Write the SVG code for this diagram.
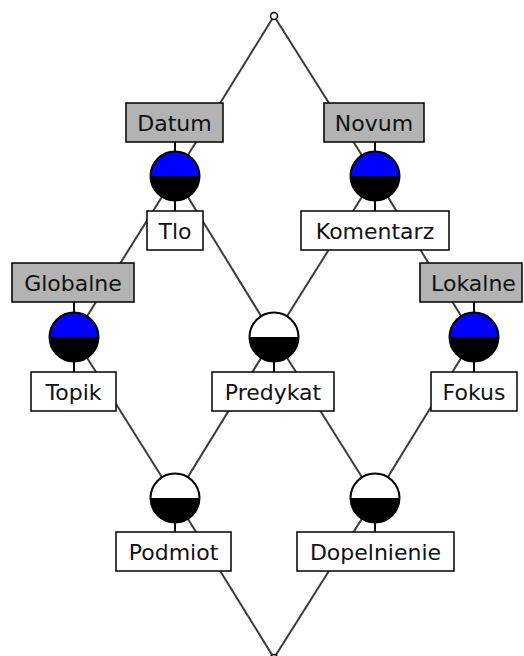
<svg xmlns="http://www.w3.org/2000/svg" width="524" height="656" viewBox="0 0 524 656">
<style>
.edge{stroke:#3c3c3c;stroke-width:2;fill:none}
.tick{stroke:#000;stroke-width:2}
.ring{fill:none;stroke:#000;stroke-width:2}
.attr{fill:#b3b3b3;stroke:#000;stroke-width:1.5}
.obj{fill:#fff;stroke:#000;stroke-width:1.5}
.lbl{font-family:"DejaVu Sans",sans-serif;font-size:22px;fill:#111;text-anchor:middle}
.blue{fill:#0000ff}
.white{fill:#fff}
.black{fill:#000}
</style>
<rect width="524" height="656" fill="#fff"/>
<g id="connectors">
<line class="edge" x1="274" y1="16" x2="175" y2="176"/>
<line class="edge" x1="274" y1="16" x2="375" y2="176"/>
<line class="edge" x1="175" y1="176" x2="74" y2="337"/>
<line class="edge" x1="175" y1="176" x2="274" y2="337"/>
<line class="edge" x1="375" y1="176" x2="274" y2="337"/>
<line class="edge" x1="375" y1="176" x2="474" y2="337"/>
<line class="edge" x1="74" y1="337" x2="175" y2="498"/>
<line class="edge" x1="274" y1="337" x2="175" y2="498"/>
<line class="edge" x1="274" y1="337" x2="375" y2="498"/>
<line class="edge" x1="474" y1="337" x2="375" y2="498"/>
<line class="edge" x1="175" y1="498" x2="274" y2="658"/>
<line class="edge" x1="375" y1="498" x2="274" y2="658"/>
</g>
<g id="top">
<circle cx="274" cy="16" r="3.5" fill="#fff" stroke="#000" stroke-width="1.5"/>
</g>
<g id="bottom">
<circle cx="274" cy="658" r="3.5" fill="#fff" stroke="#000" stroke-width="1.5"/>
</g>
<g id="n-datum-tlo">
<line class="tick" x1="175" y1="142" x2="175" y2="152"/>
<line class="tick" x1="175" y1="200" x2="175" y2="211"/>
<path class="blue" d="M150.5,176 A24.5,24.5 0 0 1 199.5,176 Z"/>
<path class="black" d="M150.5,176 A24.5,24.5 0 0 0 199.5,176 Z"/>
<circle class="ring" cx="175" cy="176" r="24.5"/>
<rect class="attr" x="126" y="103" width="97" height="39"/>
<text class="lbl" x="174.5" y="131">Datum</text>
<rect class="obj" x="147" y="211" width="56" height="39"/>
<text class="lbl" x="175" y="239">Tlo</text>
</g>
<g id="n-novum-komentarz">
<line class="tick" x1="375" y1="142" x2="375" y2="152"/>
<line class="tick" x1="375" y1="200" x2="375" y2="211"/>
<path class="blue" d="M350.5,176 A24.5,24.5 0 0 1 399.5,176 Z"/>
<path class="black" d="M350.5,176 A24.5,24.5 0 0 0 399.5,176 Z"/>
<circle class="ring" cx="375" cy="176" r="24.5"/>
<rect class="attr" x="324" y="103" width="100" height="39"/>
<text class="lbl" x="374" y="131">Novum</text>
<rect class="obj" x="301" y="211" width="148" height="39"/>
<text class="lbl" x="375" y="239">Komentarz</text>
</g>
<g id="n-globalne-topik">
<line class="tick" x1="74" y1="302" x2="74" y2="313"/>
<line class="tick" x1="74" y1="361" x2="74" y2="372"/>
<path class="blue" d="M49.5,337 A24.5,24.5 0 0 1 98.5,337 Z"/>
<path class="black" d="M49.5,337 A24.5,24.5 0 0 0 98.5,337 Z"/>
<circle class="ring" cx="74" cy="337" r="24.5"/>
<rect class="attr" x="12" y="263" width="122" height="39"/>
<text class="lbl" x="73" y="291">Globalne</text>
<rect class="obj" x="31" y="372" width="85" height="39"/>
<text class="lbl" x="73.5" y="400">Topik</text>
</g>
<g id="n-predykat">
<line class="tick" x1="274" y1="361" x2="274" y2="372"/>
<path class="white" d="M249.5,337 A24.5,24.5 0 0 1 298.5,337 Z"/>
<path class="black" d="M249.5,337 A24.5,24.5 0 0 0 298.5,337 Z"/>
<circle class="ring" cx="274" cy="337" r="24.5"/>
<rect class="obj" x="212" y="372" width="122" height="39"/>
<text class="lbl" x="273" y="400">Predykat</text>
</g>
<g id="n-lokalne-fokus">
<line class="tick" x1="474" y1="302" x2="474" y2="313"/>
<line class="tick" x1="474" y1="361" x2="474" y2="372"/>
<path class="blue" d="M449.5,337 A24.5,24.5 0 0 1 498.5,337 Z"/>
<path class="black" d="M449.5,337 A24.5,24.5 0 0 0 498.5,337 Z"/>
<circle class="ring" cx="474" cy="337" r="24.5"/>
<rect class="attr" x="420" y="263" width="102" height="39"/>
<text class="lbl" x="473.5" y="291">Lokalne</text>
<rect class="obj" x="431" y="372" width="86" height="39"/>
<text class="lbl" x="474" y="400">Fokus</text>
</g>
<g id="n-podmiot">
<line class="tick" x1="175" y1="522" x2="175" y2="532"/>
<path class="white" d="M150.5,498 A24.5,24.5 0 0 1 199.5,498 Z"/>
<path class="black" d="M150.5,498 A24.5,24.5 0 0 0 199.5,498 Z"/>
<circle class="ring" cx="175" cy="498" r="24.5"/>
<rect class="obj" x="116" y="532" width="115" height="39"/>
<text class="lbl" x="173.5" y="560">Podmiot</text>
</g>
<g id="n-dopelnienie">
<line class="tick" x1="375" y1="522" x2="375" y2="532"/>
<path class="white" d="M350.5,498 A24.5,24.5 0 0 1 399.5,498 Z"/>
<path class="black" d="M350.5,498 A24.5,24.5 0 0 0 399.5,498 Z"/>
<circle class="ring" cx="375" cy="498" r="24.5"/>
<rect class="obj" x="297" y="532" width="157" height="39"/>
<text class="lbl" x="375.5" y="560">Dopelnienie</text>
</g>
</svg>
